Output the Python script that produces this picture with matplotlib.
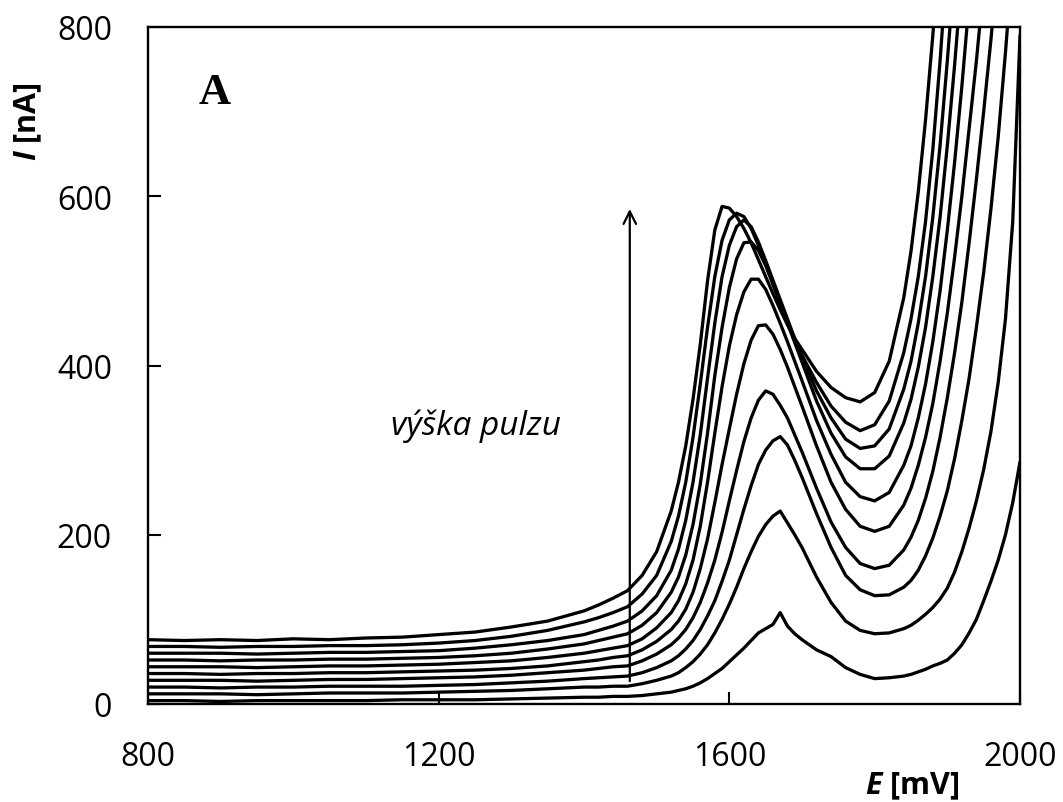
import matplotlib
matplotlib.use("Agg")
import matplotlib.pyplot as plt

plt.rcParams['font.family'] = ['Open Sans', 'DejaVu Sans']
plt.rcParams['mathtext.fontset'] = 'custom'
plt.rcParams['mathtext.it'] = 'Open Sans:italic:bold'
plt.rcParams['mathtext.rm'] = 'Open Sans:bold'

# Potential grid [mV]
E = [800, 850, 900, 950, 1000, 1050, 1100, 1150, 1200, 1250, 1300, 1350, 1400,
     1420, 1440, 1460, 1480, 1500,
     1520, 1530, 1540, 1550, 1560, 1570, 1580, 1590, 1600, 1610, 1620, 1630,
     1640, 1650, 1660, 1670, 1680, 1690, 1700,
     1720, 1740, 1760, 1780, 1800, 1820, 1840,
     1850, 1860, 1870, 1880, 1890, 1900, 1910, 1920, 1930, 1940, 1950, 1960,
     1970, 1980, 1990, 2000]

# Currents [nA], one voltammogram per pulse height (lowest to highest)
I_p1 = [4, 4, 3, 4, 4, 4, 4, 5, 5, 5, 6, 7, 8,
        8, 9, 9, 10, 12,
        14, 16, 18, 21, 25, 30, 36, 42, 50, 58, 66, 75, 84, 89, 94, 108, 92,
        83, 76,
        64, 56, 43, 35, 30, 31, 33,
        35, 38, 41, 45, 48, 52, 60, 70, 84, 100, 122, 145, 170, 200, 238, 286]
I_p2 = [12, 12, 12, 11, 12, 13, 13, 13, 14, 15, 16, 18, 20,
        20, 21, 21, 24, 28,
        33, 37, 43, 50, 59, 70, 84, 100, 118, 138, 160, 180, 198, 212, 222,
        228, 214, 200, 185,
        150, 120, 98, 87, 83, 84, 89,
        93, 99, 106, 114, 124, 137, 156, 180, 208, 240, 277, 322, 380, 455,
        570, 790]
I_p3 = [20, 20, 19, 20, 20, 21, 21, 21, 22, 23, 25, 27, 30,
        31, 32, 33, 37, 43,
        51, 57, 65, 75, 88, 104, 122, 145, 170, 200, 230, 258, 283, 300, 311,
        316, 306, 288, 268,
        225, 185, 152, 135, 128, 129, 138,
        146, 158, 175, 196, 222, 252, 290, 335, 385, 445, 510, 585, 670, 770,
        880, 1000]
I_p4 = [28, 28, 28, 27, 28, 29, 29, 30, 31, 32, 34, 37, 40,
        42, 44, 45, 51, 59,
        70, 78, 88, 102, 120, 143, 170, 203, 240, 276, 310, 338, 359, 370, 366,
        353, 338, 318, 298,
        255, 215, 185, 166, 160, 164, 182,
        197, 217, 243, 275, 315, 362, 415, 475, 545, 620, 700, 785, 880, 980,
        1080, 1150]
I_p5 = [36, 36, 35, 36, 36, 37, 37, 38, 39, 40, 42, 45, 50,
        52, 55, 57, 64, 74,
        88, 98, 112, 132, 160, 195, 238, 283, 325, 366, 402, 430, 447, 448, 437,
        419, 398, 375, 352,
        305, 262, 230, 210, 204, 210, 235,
        255, 282, 315, 355, 405, 462, 528, 600, 680, 760, 850, 950, 1060, 1170,
        1280, 1390]
I_p6 = [44, 44, 44, 43, 44, 45, 45, 46, 47, 49, 51, 55, 60,
        63, 66, 69, 77, 90,
        108, 122, 142, 170, 210, 262, 320, 375, 423, 460, 487, 502, 502, 490,
        471, 450, 428, 405, 382,
        335, 295, 262, 245, 240, 250, 282,
        305, 338, 378, 428, 488, 560, 640, 730, 830, 940, 1060, 1180, 1300,
        1420, 1540, 1660]
I_p7 = [52, 52, 51, 52, 52, 53, 53, 54, 55, 57, 60, 65, 71,
        75, 79, 83, 93, 108,
        132, 150, 176, 212, 260, 320, 388, 445, 492, 526, 545, 546, 536, 518,
        496, 473, 450, 427, 404,
        358, 320, 292, 278, 278, 293, 332,
        360, 398, 445, 505, 575, 660, 755, 860, 980, 1100, 1220, 1340, 1460,
        1580, 1700, 1820]
I_p8 = [60, 60, 60, 59, 60, 61, 61, 62, 63, 66, 70, 75, 82,
        87, 92, 98, 110, 128,
        158, 183, 217, 262, 318, 385, 450, 505, 542, 564, 572, 564, 546, 524,
        501, 478, 455, 432, 410,
        370, 338, 313, 302, 305, 325, 372,
        405, 450, 505, 575, 660, 760, 870, 990, 1100, 1210, 1320, 1430, 1540,
        1650, 1760, 1870]
I_p9 = [68, 68, 67, 68, 68, 69, 69, 70, 72, 75, 80, 87, 97,
        102, 108, 115, 130, 152,
        192, 222, 262, 315, 378, 445, 505, 548, 572, 580, 576, 562, 542, 520,
        497, 474, 452, 430, 412,
        380, 352, 333, 323, 330, 358, 415,
        455, 505, 570, 655, 760, 880, 1000, 1120, 1240, 1360, 1480, 1600, 1720,
        1840, 1960, 2080]
I_p10 = [76, 75, 76, 75, 77, 76, 78, 79, 82, 85, 91, 98, 110,
         117, 125, 134, 152, 180,
         228, 262, 305, 360, 425, 500, 560, 588, 586, 576, 562, 545, 525, 505,
         485, 466, 448, 432, 419,
         393, 374, 362, 357, 368, 405, 480,
         535, 605, 690, 790, 900, 1010, 1120, 1230, 1340, 1450, 1560, 1670,
         1780, 1890, 1990, 2100]

series = [I_p1, I_p2, I_p3, I_p4, I_p5, I_p6, I_p7, I_p8, I_p9, I_p10]

x_ticks = [800, 1200, 1600, 2000]
y_ticks = [0, 200, 400, 600, 800]

fig = plt.figure(figsize=(10.63, 8.03), dpi=100)
ax = fig.add_axes([148 / 1063, 1 - 705 / 803, 872 / 1063, 677 / 803])

for curve in series:
    ax.plot(E, curve, color='black', lw=2.35, solid_joinstyle='round',
            solid_capstyle='round')

ax.set_xlim(800, 2000)
ax.set_ylim(0, 800)
ax.set_xticks(x_ticks)
ax.set_yticks(y_ticks)
ax.tick_params(direction='in', length=9, width=1.5, labelsize=23, pad=26,
               colors='black')
for s in ax.spines.values():
    s.set_linewidth(1.7)
    s.set_color('black')

# axis titles
fig.text(28 / 1063, 1 - 122 / 803, r'$I$ [nA]', fontsize=22,
         fontweight='bold', rotation=90, ha='center', va='center')
fig.text(912 / 1063, 1 - 786 / 803, r'$E$ [mV]', fontsize=22,
         fontweight='bold', ha='center', va='center')

# pulse-height arrow and caption
ax.annotate('', xy=(1463, 585), xytext=(1463, 27),
            arrowprops=dict(arrowstyle='->,head_length=0.9,head_width=0.45',
                            lw=1.6, color='black', shrinkA=0, shrinkB=0))
ax.text(1251, 319, 'výška pulzu', fontsize=24, style='italic',
        ha='center', va='baseline')
ax.text(892, 710, 'A', fontsize=32, fontweight='bold',
        family='Liberation Serif', ha='center', va='baseline')

fig.savefig('out.png', dpi=100)
